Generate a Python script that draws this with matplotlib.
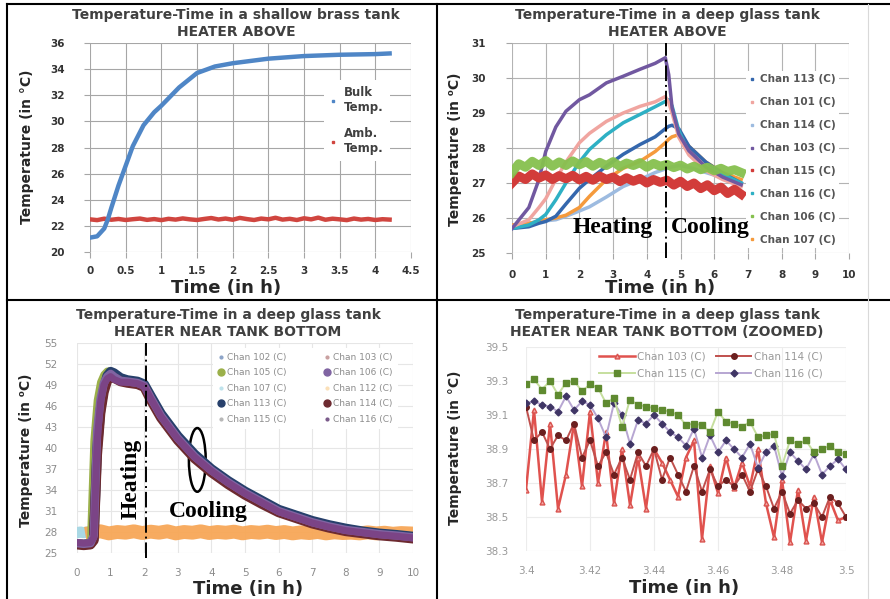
import matplotlib
matplotlib.use('Agg')
import matplotlib.pyplot as plt
from matplotlib.lines import Line2D
from matplotlib.patches import Ellipse
import numpy as np

W, H = 890, 599

# ---------------- panel 1 : shallow brass tank, heater above
t_bulk = [0, 0.1, 0.2, 0.25, 0.3, 0.4, 0.5, 0.6, 0.75, 0.9, 1.0, 1.25, 1.5, 1.75,
          2.0, 2.5, 3.0, 3.5, 4.0, 4.2]
bulk_temp = [21.1, 21.2, 21.8, 22.5, 23.4, 25.1, 26.6, 28.1, 29.7, 30.7, 31.2, 32.6,
             33.7, 34.2, 34.45, 34.8, 35.0, 35.1, 35.15, 35.2]
t_amb = np.round(np.arange(0, 4.201, 0.1), 1)
amb_temp = [22.50, 22.44, 22.55, 22.47, 22.53, 22.45, 22.51, 22.56, 22.46, 22.52,
            22.44, 22.54, 22.48, 22.57, 22.50, 22.45, 22.53, 22.60, 22.49, 22.56,
            22.47, 22.61, 22.52, 22.45, 22.56, 22.50, 22.62, 22.48, 22.54, 22.45,
            22.58, 22.50, 22.63, 22.47, 22.55, 22.50, 22.44, 22.56, 22.48, 22.53,
            22.45, 22.51, 22.48]
x1_ticks = [0, 0.5, 1, 1.5, 2, 2.5, 3, 3.5, 4, 4.5]
x1_labels = ['0', '0.5', '1', '1.5', '2', '2.5', '3', '3.5', '4', '4.5']
y1_ticks = [20, 22, 24, 26, 28, 30, 32, 34, 36]

# ---------------- panel 2 : deep glass tank, heater above
t2 = [0, 0.5, 0.8, 1.0, 1.3, 1.6, 2.0, 2.3, 2.8, 3.3, 3.8, 4.25, 4.55, 4.65, 4.75,
      4.95, 5.25, 5.75, 6.25, 6.8]
ch2_113 = [25.7, 25.75, 25.85, 25.9, 26.05, 26.4, 26.85, 27.1, 27.48, 27.82, 28.1,
           28.32, 28.55, 28.62, 28.65, 28.55, 28.05, 27.6, 27.28, 27.0]
ch2_101 = [25.75, 25.95, 26.3, 26.55, 27.1, 27.6, 28.15, 28.42, 28.76, 29.0, 29.19,
           29.32, 29.47, 29.3, 29.0, 28.3, 27.8, 27.35, 27.1, 26.9]
ch2_114 = [25.8, 25.85, 25.9, 25.92, 25.95, 26.05, 26.2, 26.32, 26.6, 26.9, 27.1,
           27.3, 27.4, 27.43, 27.46, 27.5, 27.45, 27.3, 27.15, 27.0]
ch2_103 = [25.7, 26.3, 27.1, 27.9, 28.6, 29.05, 29.38, 29.52, 29.86, 30.05, 30.25,
           30.42, 30.58, 30.1, 29.15, 28.4, 27.92, 27.46, 27.17, 26.95]
ch2_116 = [25.7, 25.8, 25.95, 26.1, 26.52, 27.0, 27.6, 27.96, 28.38, 28.72, 28.96,
           29.18, 29.33, 29.38, 29.2, 28.5, 27.85, 27.45, 27.25, 27.0]
ch2_107 = [25.8, 25.85, 25.9, 25.95, 26.0, 26.08, 26.3, 26.62, 27.1, 27.42, 27.62,
           27.9, 28.15, 28.25, 28.32, 28.38, 28.05, 27.6, 27.3, 27.1]
t2_band = np.round(np.arange(0, 6.81, 0.2), 1)
ch2_106 = [27.30, 27.55, 27.45, 27.62, 27.50, 27.64, 27.48, 27.60, 27.50, 27.63,
           27.52, 27.61, 27.48, 27.59, 27.50, 27.61, 27.47, 27.57, 27.50, 27.58,
           27.45, 27.56, 27.48, 27.53, 27.44, 27.51, 27.40, 27.48, 27.38, 27.45,
           27.35, 27.42, 27.33, 27.38, 27.30]
ch2_115 = [27.00, 27.20, 27.10, 27.26, 27.14, 27.23, 27.10, 27.21, 27.12, 27.22,
           27.09, 27.19, 27.08, 27.20, 27.10, 27.17, 27.04, 27.15, 27.05, 27.13,
           27.00, 27.10, 27.02, 27.08, 26.94, 27.05, 26.90, 27.00, 26.84, 26.95,
           26.78, 26.88, 26.70, 26.82, 26.68]
heat_stop2 = 4.57
x2_ticks = list(range(0, 11))
y2_ticks = [25, 26, 27, 28, 29, 30, 31]

# ---------------- panel 3 : deep glass tank, heater near bottom
t3 = [0, 0.2, 0.4, 0.5, 0.6, 0.7, 0.8, 0.9, 1.0, 1.1, 1.3, 1.5, 1.8, 2.0, 2.2, 2.5,
      3.0, 3.5, 4.0, 4.5, 5.0, 5.5, 6.0, 6.5, 7.0, 7.5, 8.0, 8.5, 9.0, 9.5, 9.9]
ch3_105 = [26.5, 26.4, 26.6, 41.0, 46.8, 49.4, 50.5, 51.0, 51.0, 50.5, 49.9, 49.6,
           49.3, 48.8, 46.9, 44.4, 41.2, 38.6, 36.6, 35.0, 33.5, 32.2, 30.9, 30.1,
           29.3, 28.7, 28.2, 27.9, 27.6, 27.4, 27.2]
ch3_106 = [26.4, 26.3, 26.4, 27.5, 42.5, 47.0, 49.3, 50.2, 50.6, 50.2, 49.6, 49.5,
           49.3, 48.9, 47.1, 44.6, 41.4, 38.8, 36.8, 35.1, 33.6, 32.3, 31.0, 30.2,
           29.4, 28.8, 28.3, 28.0, 27.7, 27.5, 27.3]
ch3_113 = [26.3, 26.2, 26.3, 27.0, 40.0, 45.5, 48.5, 50.3, 50.9, 50.7, 50.0, 49.7,
           49.5, 49.1, 47.4, 44.9, 41.7, 39.1, 37.0, 35.3, 33.8, 32.5, 31.2, 30.4,
           29.6, 29.0, 28.5, 28.1, 27.8, 27.6, 27.4]
ch3_114 = [26.2, 26.1, 26.2, 26.8, 39.0, 45.0, 48.0, 49.6, 50.2, 50.0, 49.5, 49.3,
           49.1, 48.7, 46.8, 44.3, 41.1, 38.5, 36.5, 34.8, 33.3, 32.0, 30.8, 30.0,
           29.2, 28.6, 28.1, 27.8, 27.5, 27.3, 27.1]
ch3_116 = [26.5, 26.4, 26.5, 27.2, 41.0, 46.5, 49.0, 49.9, 50.2, 49.8, 49.4, 49.4,
           49.2, 48.8, 47.0, 44.5, 41.3, 38.7, 36.7, 35.0, 33.5, 32.2, 30.9, 30.1,
           29.3, 28.7, 28.2, 27.9, 27.6, 27.4, 27.2]
t3_107 = [0, 0.1, 0.2, 0.3, 0.4, 0.5]
ch3_107 = [27.9, 28.0, 27.9, 28.0, 27.9, 28.0]
t3_amb = np.linspace(0.45, 9.9, 39)
ch3_112 = [27.9, 28.1, 27.8, 28.0, 27.9, 28.1, 27.85, 28.05, 27.9, 28.1,
           27.8, 28.0, 27.9, 28.1, 27.85, 28.0, 27.9, 28.05, 27.8, 28.0,
           27.9, 28.05, 27.85, 28.0, 27.8, 27.95, 27.85, 28.0, 27.8, 27.95,
           27.85, 27.9, 27.8, 27.95, 27.8, 27.9, 27.75, 27.85, 27.8]
heat_stop3 = 2.05
x3_ticks = list(range(0, 11))
y3_ticks = [25, 28, 31, 34, 37, 40, 43, 46, 49, 52, 55]

# ---------------- panel 4 : zoomed window
t4 = np.round(np.arange(3.4, 3.50001, 0.0025), 4)
ch4_103 = [38.66, 39.13, 38.59, 39.05, 38.55, 38.75, 39.05, 38.68, 39.12, 38.70,
           39.00, 38.58, 38.90, 38.57, 38.85, 38.55, 38.90, 38.82, 38.72, 38.62,
           38.85, 38.95, 38.37, 38.80, 38.64, 38.85, 38.67, 38.82, 38.68, 38.90,
           38.58, 38.38, 38.72, 38.35, 38.66, 38.36, 38.62, 38.35, 38.60, 38.48, 38.50]
ch4_114 = [39.15, 38.95, 39.00, 38.90, 38.98, 38.95, 39.05, 38.85, 38.95, 38.80,
           38.88, 38.75, 38.85, 38.72, 38.88, 38.80, 38.90, 38.72, 38.85, 38.75,
           38.65, 38.80, 38.65, 38.78, 38.68, 38.72, 38.68, 38.75, 38.65, 38.78,
           38.68, 38.55, 38.65, 38.52, 38.60, 38.55, 38.58, 38.50, 38.62, 38.58, 38.50]
ch4_115 = [39.28, 39.31, 39.25, 39.30, 39.22, 39.29, 39.30, 39.24, 39.28, 39.26,
           39.17, 39.20, 39.03, 39.19, 39.16, 39.15, 39.14, 39.13, 39.12, 39.10,
           39.04, 39.05, 39.04, 39.00, 39.12, 39.06, 39.05, 39.03, 39.06, 38.97,
           38.98, 38.99, 38.80, 38.95, 38.93, 38.95, 38.88, 38.90, 38.92, 38.88, 38.87]
ch4_116 = [39.17, 39.18, 39.16, 39.15, 39.12, 39.21, 39.13, 39.18, 39.16, 39.08,
           38.97, 39.17, 39.10, 38.93, 39.07, 39.05, 39.10, 39.05, 39.00, 38.97,
           38.92, 39.02, 38.85, 38.98, 38.88, 38.95, 38.90, 38.85, 38.93, 38.79,
           38.88, 38.92, 38.74, 38.88, 38.83, 38.78, 38.87, 38.75, 38.80, 38.84, 38.78]
x4_ticks = [3.40, 3.42, 3.44, 3.46, 3.48, 3.50]
x4_labels = ['3.4', '3.42', '3.44', '3.46', '3.48', '3.5']
y4_ticks = [38.3, 38.5, 38.7, 38.9, 39.1, 39.3, 39.5]
y4_labels = ['38.3', '38.5', '38.7', '38.9', '39.1', '39.3', '39.5']


def box(x0, y0, x1, y1):
    return [x0 / W, 1 - y1 / H, (x1 - x0) / W, (y1 - y0) / H]


def ftext(x, y, s, **kw):
    fig.text(x / W, 1 - y / H, s, **kw)


def style(ax, grid_col, lab_col, weight, ticklen, tick_col, xpad, ypad):
    for sp in ax.spines.values():
        sp.set_visible(False)
    ax.grid(True, color=grid_col, lw=0.8)
    ax.set_axisbelow(True)
    ax.tick_params(length=ticklen, width=0.8, color=tick_col, labelsize=7.5,
                   labelcolor=lab_col)
    ax.tick_params(axis='x', pad=xpad)
    ax.tick_params(axis='y', pad=ypad)
    for lab in ax.get_xticklabels() + ax.get_yticklabels():
        lab.set_fontweight(weight)


fig = plt.figure(figsize=(W / 100, H / 100), dpi=100)

# ---- panel 1
ax1 = fig.add_axes(box(90, 43, 411, 252))
ax1.plot(t_amb, amb_temp, color='#d0453f', lw=3.2, solid_joinstyle='round')
ax1.plot(t_bulk, bulk_temp, color='#4f86c6', lw=3.2)
ax1.set_xlim(0, 4.5)
ax1.set_ylim(20, 36)
ax1.set_xticks(x1_ticks, x1_labels)
ax1.set_yticks(y1_ticks)
style(ax1, '#a6a6a6', '#333333', 'bold', 4, '#a6a6a6', 6, 14)
h1 = [Line2D([], [], color='#4f86c6', marker='s', ms=2, ls='none'),
      Line2D([], [], color='#d0453f', marker='s', ms=2, ls='none')]
ax1.legend(h1, ['Bulk\nTemp.', 'Amb.\nTemp.'], loc='upper left',
           bbox_to_anchor=(0.71, 0.85), facecolor='white', edgecolor='none',
           framealpha=1, prop={'size': 8.5, 'weight': 'bold'}, labelcolor='#404040',
           handlelength=0.5, handletextpad=0.7, labelspacing=1.1, borderpad=0.5)

# ---- panel 2
ax2 = fig.add_axes(box(512, 43, 849, 253))
ax2.plot(t2, ch2_114, color='#9dbbe0', lw=2.5)
ax2.plot(t2, ch2_107, color='#f59a3c', lw=2.5)
ax2.plot(t2, ch2_113, color='#3467ad', lw=2.5)
ax2.plot(t2, ch2_116, color='#2eb0c4', lw=2.5)
ax2.plot(t2, ch2_101, color='#f0a5a0', lw=2.5)
ax2.plot(t2, ch2_103, color='#7158a0', lw=2.5)
ax2.plot(t2_band, ch2_115, color='#d23c3a', lw=6.5)
ax2.plot(t2_band, ch2_106, color='#86c04e', lw=6.5, alpha=0.95)
ax2.plot([heat_stop2, heat_stop2], [24.85, 31], color='k', lw=1.4,
         ls=(0, (8, 2, 1, 2)), clip_on=False)
ax2.set_xlim(0, 10)
ax2.set_ylim(25, 31)
ax2.set_xticks(x2_ticks)
ax2.set_yticks(y2_ticks)
style(ax2, '#b3b3b3', '#333333', 'bold', 4, '#a6a6a6', 8, 15)
names2 = ['Chan 113 (C)', 'Chan 101 (C)', 'Chan 114 (C)', 'Chan 103 (C)',
          'Chan 115 (C)', 'Chan 116 (C)', 'Chan 106 (C)', 'Chan 107 (C)']
cols2 = ['#3467ad', '#f0a5a0', '#9dbbe0', '#7158a0', '#d23c3a', '#2eb0c4',
         '#86c04e', '#f59a3c']
h2 = [Line2D([], [], color=c, marker='s', ms=2, ls='none') for c in cols2]
ax2.legend(h2, names2, loc='upper left', bbox_to_anchor=(0.68, 0.89),
           facecolor='white', edgecolor='none', framealpha=1,
           prop={'size': 7.5, 'weight': 'bold'}, labelcolor='#555555',
           handlelength=0.5, handletextpad=0.5, labelspacing=1.24, borderpad=0.3)

# ---- panel 3
ax3 = fig.add_axes(box(77, 343, 413, 553))
ax3.plot(t3_107, ch3_107, color='#a9d8e4', lw=8)
ax3.plot(t3_amb, ch3_112, color='#f7a757', lw=10, alpha=0.95)
ax3.plot(t3, ch3_105, color='#9bb04a', lw=5)
ax3.plot(t3, ch3_113, color='#27406b', lw=7)
ax3.plot(t3, ch3_114, color='#6d2a30', lw=7)
ax3.plot(t3, ch3_106, color='#8064a2', lw=6)
ax3.plot(t3, ch3_116, color='#7b4486', lw=5)
ax3.add_patch(Ellipse((3.58, 38.3), 0.5, 9.1, fill=False, lw=1.8, color='k'))
ax3.plot([heat_stop3, heat_stop3], [24.3, 55], color='k', lw=1.4,
         ls=(0, (8, 2, 1, 2)), clip_on=False)
ax3.set_xlim(0, 10)
ax3.set_ylim(25, 55)
ax3.set_xticks(x3_ticks)
ax3.set_yticks(y3_ticks)
style(ax3, '#e6e6e6', '#8c8c8c', 'normal', 0, '#e6e6e6', 11, 14)
names3 = ['Chan 102 (C)', 'Chan 105 (C)', 'Chan 107 (C)', 'Chan 113 (C)',
          'Chan 115 (C)', 'Chan 103 (C)', 'Chan 106 (C)', 'Chan 112 (C)',
          'Chan 114 (C)', 'Chan 116 (C)']
cols3 = ['#8da4c8', '#9bb04a', '#bfe3ec', '#27406b', '#b7b7b7',
         '#c9a0a0', '#8064a2', '#fbe0b8', '#6d2a30', '#7a5a8a']
sizes3 = [2, 5, 2, 5, 2, 2, 5, 2, 5, 2]
h3 = [Line2D([], [], color=c, marker='o', ms=s, ls='none')
      for c, s in zip(cols3, sizes3)]
ax3.legend(h3, names3, ncol=2, loc='upper left', bbox_to_anchor=(0.39, 1.0),
           facecolor='white', edgecolor='none', framealpha=1, fontsize=6.5,
           labelcolor='#8c8c8c', handlelength=0.6, handletextpad=0.4,
           labelspacing=0.72, columnspacing=4.2, borderpad=0.6)

# ---- panel 4
ax4 = fig.add_axes(box(526, 347, 846, 551))
ax4.plot(t4, ch4_103, color='#e0524e', lw=1.8, marker='^', ms=3.5,
         mfc='#f3a7a5', mec='#d9534f')
ax4.plot(t4, ch4_114, color='#c0504d', lw=1.4, marker='o', ms=4,
         mfc='#6b1f1f', mec='#6b1f1f')
ax4.plot(t4, ch4_116, color='#b7a6d2', lw=1.4, marker='D', ms=3.5,
         mfc='#3f3565', mec='#3f3565')
ax4.plot(t4, ch4_115, color='#c6df9e', lw=1.4, marker='s', ms=4.5,
         mfc='#5f8a30', mec='#5f8a30')
ax4.set_xlim(3.4, 3.5)
ax4.set_ylim(38.3, 39.5)
ax4.set_xticks(x4_ticks, x4_labels)
ax4.set_yticks(y4_ticks, y4_labels)
style(ax4, '#ececec', '#999999', 'normal', 0, '#ececec', 11, 13)
lines4 = ax4.get_lines()
ax4.legend([lines4[0], lines4[3], lines4[1], lines4[2]],
           ['Chan 103 (C)', 'Chan 115 (C)', 'Chan 114 (C)', 'Chan 116 (C)'],
           ncol=2, loc='upper left', bbox_to_anchor=(0.2, 1.025), frameon=False,
           fontsize=7.5, labelcolor='#999999', handlelength=3.4,
           handletextpad=0.2, labelspacing=0.7, columnspacing=1.0)

# ---- titles, axis titles, annotations
tkw = dict(ha='center', va='center', fontsize=10, weight='bold', color='#404040')
ftext(236, 15, 'Temperature-Time in a shallow brass tank', **tkw)
ftext(236, 32, 'HEATER ABOVE', **tkw)
ftext(667, 15, 'Temperature-Time in a deep glass tank', **tkw)
ftext(667, 32, 'HEATER ABOVE', **tkw)
ftext(228, 315, 'Temperature-Time in a deep glass tank', **tkw)
ftext(228, 332, 'HEATER NEAR TANK BOTTOM', **tkw)
ftext(667, 315, 'Temperature-Time in a deep glass tank', **tkw)
ftext(667, 332, 'HEATER NEAR TANK BOTTOM (ZOOMED)', **tkw)

xkw = dict(ha='center', va='center', fontsize=13, weight='bold', color='#262626')
ftext(226, 288, 'Time (in h)', **xkw)
ftext(660, 288, 'Time (in h)', **xkw)
ftext(248, 589, 'Time (in h)', **xkw)
ftext(684, 588, 'Time (in h)', **xkw)

ykw = dict(ha='center', va='center', fontsize=10, weight='bold', color='#262626',
           rotation=90)
ftext(27, 147, 'Temperature (in °C)', **ykw)
ftext(455, 149, 'Temperature (in \u2070C)', **ykw)
ftext(26, 450, 'Temperature (in \u2070C)', **ykw)
ftext(455, 448, 'Temperature (in °C)', **ykw)

skw = dict(ha='center', va='center', fontsize=17, weight='bold',
           family='Liberation Serif', color='black')
ftext(613, 228, 'Heating', **skw)
ftext(710, 228, 'Cooling', **skw)
ftext(131, 479, 'Heating', rotation=90, **skw)
ftext(208, 511, 'Cooling', **skw)

# ---- table-like frame around the four charts
for xs, ys, c, lw in [([7, 890], [4, 4], 'black', 1.5),
                      ([7, 890], [300, 300], 'black', 1.5),
                      ([7, 7], [4, 599], 'black', 1.5),
                      ([437, 437], [4, 599], 'black', 1.5),
                      ([868, 868], [4, 599], '#d9d9d9', 0.8)]:
    fig.add_artist(Line2D([x / W for x in xs], [1 - y / H for y in ys],
                          color=c, lw=lw))

fig.savefig('out.png', dpi=100)
